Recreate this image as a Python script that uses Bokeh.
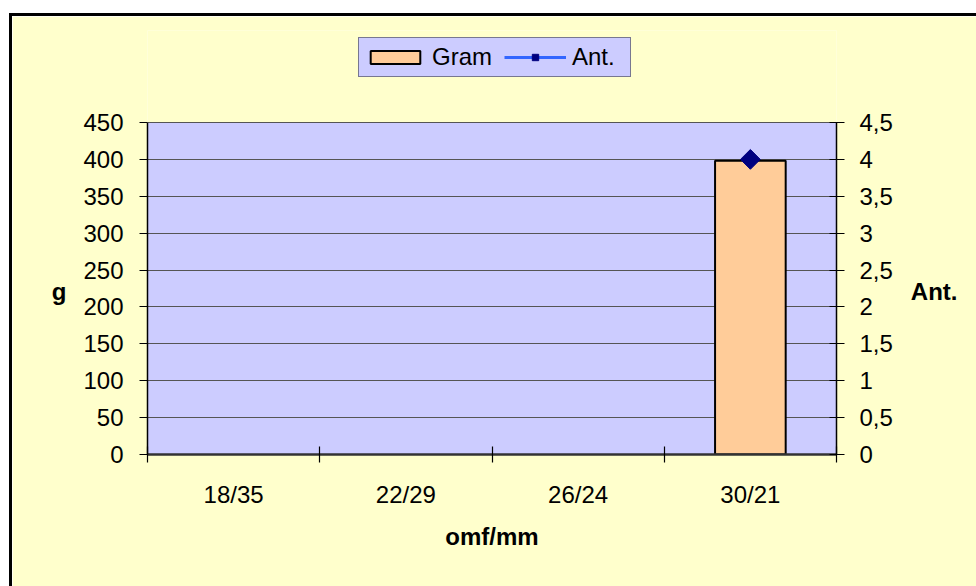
from bokeh.plotting import figure
from bokeh.models import (Range1d, LinearAxis, FixedTicker, Legend, LegendItem, Spacer)
from bokeh.layouts import column, row
from bokeh.embed import file_html
from bokeh.resources import INLINE
import math

categories = ["18/35", "22/29", "26/24", "30/21"]
gram = [float("nan"), float("nan"), float("nan"), 398]
ant = [float("nan"), float("nan"), float("nan"), 4]
left_ticks = [0, 50, 100, 150, 200, 250, 300, 350, 400, 450]
right_ticks = [0, 0.5, 1, 1.5, 2, 2.5, 3, 3.5, 4, 4.5]
right_labels = ["0", "0,5", "1", "1,5", "2", "2,5", "3", "3,5", "4", "4,5"]

FONT = "Liberation Sans"
FS = "24px"
YMAX_L = 450
YMAX_R = 4.5

# frame extends upward to hold the legend; plot area is 0..450 of it
FRAME_H = 424
AREA_H = 332
top_l = YMAX_L * FRAME_H / AREA_H
top_r = YMAX_R * FRAME_H / AREA_H

xs = [i + 0.5 for i in range(len(categories))]

p = figure(width=964, height=570, output_backend="svg", toolbar_location=None,
           x_range=Range1d(0, len(categories)), y_range=Range1d(0, top_l),
           min_border_left=135, min_border_right=140, min_border_top=14, min_border_bottom=132,
           background_fill_color="#FFFFCC", border_fill_color="#FFFFCC", outline_line_color=None,
           tools="", x_axis_location=None, y_axis_location=None)
p.extra_y_ranges = {"ant": Range1d(0, top_r)}

# plot area background
p.quad(left=[0], right=[len(categories)], bottom=[0], top=[YMAX_L],
       fill_color="#CCCCFF", line_color=None, level="image")

# x axis
xaxis = LinearAxis(ticker=FixedTicker(ticks=xs, minor_ticks=list(range(len(categories) + 1))),
                   major_label_overrides={x: c for x, c in zip(xs, categories)})
xaxis.major_tick_in = 0
xaxis.major_tick_out = 0
xaxis.minor_tick_in = 8
xaxis.minor_tick_out = 8
xaxis.minor_tick_line_color = "black"
xaxis.minor_tick_line_width = 1.2
xaxis.axis_line_color = "#333333"
xaxis.axis_line_width = 2.5
xaxis.major_label_standoff = 18
xaxis.major_label_text_font = FONT
xaxis.major_label_text_font_size = FS
xaxis.major_label_text_color = "black"
xaxis.axis_label = "omf/mm"
xaxis.axis_label_text_font = FONT
xaxis.axis_label_text_font_size = FS
xaxis.axis_label_text_font_style = "bold"
xaxis.axis_label_text_color = "black"
xaxis.axis_label_standoff = 12
p.add_layout(xaxis, "below")

# left axis (label pushed down with blank lines so it centres on the 0..450 area)
laxis = LinearAxis(ticker=FixedTicker(ticks=left_ticks), bounds=(0, YMAX_L))
laxis.major_tick_in = 0
laxis.major_tick_out = 8
laxis.minor_tick_line_color = None
laxis.major_tick_line_color = "black"
laxis.axis_line_color = "black"
laxis.axis_line_width = 1.5
laxis.major_label_standoff = 16
laxis.major_label_text_font = FONT
laxis.major_label_text_font_size = FS
laxis.major_label_text_color = "black"
laxis.axis_label = "\n\n\ng"
laxis.axis_label_orientation = "horizontal"
laxis.axis_label_text_font = FONT
laxis.axis_label_text_font_size = FS
laxis.axis_label_text_font_style = "bold"
laxis.axis_label_text_color = "black"
laxis.axis_label_standoff = 14
p.add_layout(laxis, "left")

# right axis
raxis = LinearAxis(y_range_name="ant", ticker=FixedTicker(ticks=right_ticks), bounds=(0, YMAX_R),
                   major_label_overrides={t: l for t, l in zip(right_ticks, right_labels)})
raxis.major_tick_in = 7
raxis.major_tick_out = 8
raxis.minor_tick_line_color = None
raxis.major_tick_line_color = "black"
raxis.axis_line_color = "black"
raxis.axis_line_width = 1.5
raxis.major_label_standoff = 15
raxis.major_label_text_font = FONT
raxis.major_label_text_font_size = FS
raxis.major_label_text_color = "black"
raxis.axis_label = "\n\n\nAnt."
raxis.axis_label_orientation = "horizontal"
raxis.axis_label_text_font = FONT
raxis.axis_label_text_font_size = FS
raxis.axis_label_text_font_style = "bold"
raxis.axis_label_text_color = "black"
raxis.axis_label_standoff = 15
p.add_layout(raxis, "right")

p.xgrid.visible = False
p.ygrid.ticker = FixedTicker(ticks=left_ticks)
p.ygrid.grid_line_color = "#555555"
p.ygrid.grid_line_width = 1.2

bars = p.vbar(x=xs, top=gram, width=0.41, fill_color="#FFCC99", line_color="black", line_width=2)
line = p.line(xs, ant, y_range_name="ant", line_color="#3366FF", line_width=3)
pts = p.scatter(xs, ant, y_range_name="ant", marker="square", angle=math.pi / 4, size=14,
                fill_color="#000080", line_color="#000080")

legend = Legend(items=[LegendItem(label="Gram", renderers=[bars]),
                       LegendItem(label="Ant.", renderers=[line, pts])],
                orientation="horizontal", location=(211, 377), margin=0, padding=5,
                glyph_width=62, glyph_height=16, label_standoff=6, spacing=12, label_width=53,
                label_text_font=FONT, label_text_font_size=FS, label_text_color="black",
                background_fill_color="#CCCCFF", background_fill_alpha=1,
                border_line_color="#222222", border_line_width=1.5)
p.add_layout(legend, "center")

black = {"background-color": "black"}
layout = column(
    Spacer(width=976, height=13),
    row(Spacer(width=9, height=3), Spacer(width=967, height=3, styles=black)),
    row(Spacer(width=9, height=570), Spacer(width=3, height=570, styles=black), p),
)

open("out.html", "w").write(file_html(layout, INLINE))
